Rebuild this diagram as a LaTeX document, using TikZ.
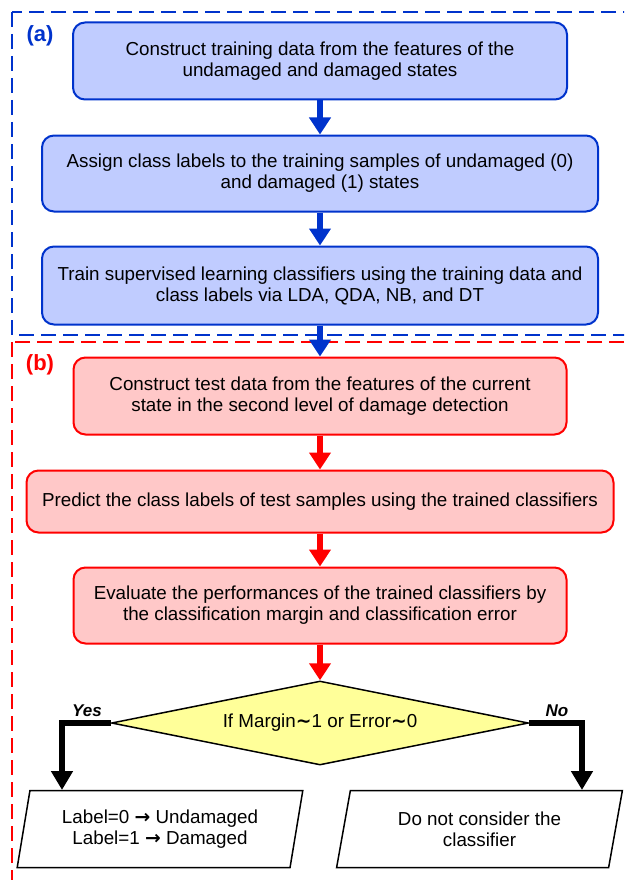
\documentclass[tikz,border=0pt]{standalone}
\usepackage{fontspec}
\setmainfont{Liberation Sans}
\newfontfamily\symfont{DejaVu Sans}
\usepackage{xcolor}
\usepackage{tikz}
\usetikzlibrary{arrows.meta,shapes.geometric}

\begin{document}
\begin{tikzpicture}[
    x=1pt, y=-1pt,
    font=\fontsize{18.8}{21}\selectfont,
  ]
  % Colour definitions — one pair per part
  \definecolor{Afill}{HTML}{C0CCFF}   % training, soft blue
  \definecolor{Abdr}{HTML}{0033CC}
  \definecolor{Bfill}{HTML}{FFC8C8}   % testing, soft red
  \definecolor{Bbdr}{HTML}{FF0000}
  \definecolor{Dfill}{HTML}{FFFF99}   % decision, pale yellow

  \tikzstyle{stage} = [draw, rounded corners=12pt, minimum height=77pt,
    align=center, line width=2pt, inner sep=0pt]
  \tikzstyle{flowA} = [-{Triangle[width=21pt,length=17pt]}, line width=6pt, color=Abdr]
  \tikzstyle{flowB} = [-{Triangle[width=21pt,length=17pt]}, line width=6pt, color=Bbdr]
  \tikzstyle{branch} = [-{Triangle[width=21pt,length=19pt]}, line width=6pt, black]
  \tikzstyle{outcome} = [trapezium, trapezium left angle=76, trapezium right angle=104,
    trapezium stretches=true, draw, line width=1.5pt, minimum width=286pt,
    minimum height=77pt, align=center, inner sep=0pt]
  \newcommand{\approxto}{{\symfont\bfseries ∼}}
  \newcommand{\mapsarrow}{{\symfont\bfseries →}}

  \useasboundingbox (0,0) rectangle (624,880);
  \clip (0,0) rectangle (624,880);

  % Dashed frames of the two parts
  \draw[Abdr, line width=2.5pt, dash pattern=on 15pt off 7pt] (12,12) rectangle (640,335);
  \draw[Bbdr, line width=2.5pt, dash pattern=on 15pt off 7pt] (12,342) rectangle (640,900);
  \node[font=\fontsize{22}{24}\selectfont\bfseries, text=Abdr] (taga) at (40,36) {(a)};
  \node[font=\fontsize{22}{24}\selectfont\bfseries, text=Bbdr] (tagb) at (40,365) {(b)};

  % (a) training
  \node[stage, fill=Afill, draw=Abdr, minimum width=494pt] (train1) at (320,61)
    {Construct training data from the features of the\\undamaged and damaged states};
  \node[stage, fill=Afill, draw=Abdr, minimum width=556pt, minimum height=76pt] (train2) at (320,173.5)
    {Assign class labels to the training samples of undamaged (0)\\and damaged (1) states};
  \node[stage, fill=Afill, draw=Abdr, minimum width=556pt, minimum height=78pt] (train3) at (320,285.5)
    {Train supervised learning classifiers using the training data and\\class labels via LDA, QDA, NB, and DT};

  % (b) testing
  \node[stage, fill=Bfill, draw=Bbdr, minimum width=493pt] (test1) at (320,396)
    {Construct test data from the features of the current\\state in the second level of damage detection};
  \node[stage, fill=Bfill, draw=Bbdr, minimum width=587pt, minimum height=62pt] (test2) at (320,501.5)
    {Predict the class labels of test samples using the trained classifiers};
  \node[stage, fill=Bfill, draw=Bbdr, minimum width=493pt, minimum height=76pt] (test3) at (320,605.5)
    {Evaluate the performances of the trained classifiers by\\the classification margin and classification error};

  % Decision and outcomes
  \node[diamond, draw, fill=Dfill, line width=1.5pt, minimum width=417pt,
    minimum height=84pt, aspect=5, inner sep=0pt] (check) at (320,723)
    {If Margin\approxto1 or Error\approxto0};
  \node[outcome] (keep) at (160,829)
    {Label=0 \mapsarrow\ Undamaged\\Label=1 \mapsarrow\ Damaged};
  \node[outcome] (drop) at (479.5,829)
    {Do not consider the\\classifier};
  \coordinate (yesend) at (62,790);
  \coordinate (noend) at (582,790);

  % Arrows
  \draw[flowA] (train1) -- (train2);
  \draw[flowA] (train2) -- (train3);
  \draw[flowA] (train3) -- (test1);
  \draw[flowB] (test1) -- (test2);
  \draw[flowB] (test2) -- (test3);
  \draw[flowB] (test3) -- (check);
  \draw[branch] (check.west) -| (yesend);
  \draw[branch] (check.east) -| (noend);

  \node[font=\bfseries\itshape\fontsize{17}{20}\selectfont] (yes) at (87,711) {Yes};
  \node[font=\bfseries\itshape\fontsize{17}{20}\selectfont] (no) at (557,711) {No};
\end{tikzpicture}
\end{document}
